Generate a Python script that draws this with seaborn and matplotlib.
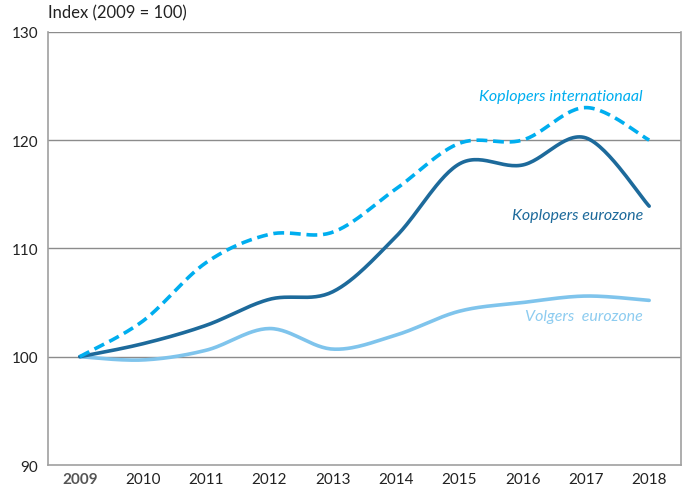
import numpy as np
import pandas as pd
import matplotlib
matplotlib.use("Agg")
import matplotlib.pyplot as plt
import seaborn as sns

# data
years = ["2009", "2010", "2011", "2012", "2013", "2014", "2015", "2016", "2017", "2018"]
koplopers_int = [100.0, 103.3, 108.7, 111.3, 111.5, 115.5, 119.7, 120.0, 123.0, 120.0]
koplopers_euro = [100.0, 101.2, 102.9, 105.3, 106.0, 111.1, 117.8, 117.7, 120.2, 113.9]
volgers_euro = [100.0, 99.7, 100.6, 102.6, 100.7, 102.0, 104.2, 105.0, 105.6, 105.2]

c_int = "#00aeef"
c_euro = "#1d6a9b"
c_volg = "#7fc4ec"


def smooth(values, n=30):
    # Catmull-Rom curve through the points (Excel-style smoothed line)
    y = np.asarray(values, dtype=float)
    x = np.arange(len(y), dtype=float)
    px = np.concatenate([[x[0]], x, [x[-1]]])
    py = np.concatenate([[y[0]], y, [y[-1]]])
    xs, ys = [], []
    for i in range(1, len(px) - 2):
        t = np.linspace(0, 1, n, endpoint=False)
        for arr, out in ((px, xs), (py, ys)):
            p0, p1, p2, p3 = arr[i - 1], arr[i], arr[i + 1], arr[i + 2]
            out.append(0.5 * ((2 * p1) + (-p0 + p2) * t
                              + (2 * p0 - 5 * p1 + 4 * p2 - p3) * t ** 2
                              + (-p0 + 3 * p1 - 3 * p2 + p3) * t ** 3))
    xs.append([x[-1]])
    ys.append([y[-1]])
    return np.concatenate(xs), np.concatenate(ys)


sns.set_theme(style="white")
plt.rcParams["font.family"] = ["Lato", "DejaVu Sans"]

fig = plt.figure(figsize=(6.87, 4.89), dpi=100)
ax = fig.add_axes([0.07, 0.047, 0.921, 0.886])

for vals, col, dash in ((volgers_euro, c_volg, None),
                        (koplopers_euro, c_euro, None),
                        (koplopers_int, c_int, (3, 1.6))):
    sx, sy = smooth(vals)
    df = pd.DataFrame({"x": sx, "y": sy})
    sns.lineplot(data=df, x="x", y="y", ax=ax, color=col, lw=2.6,
                 sort=False, estimator=None)
    if dash:
        ax.lines[-1].set_dashes(dash)
        ax.lines[-1].set_dash_capstyle("butt")

ax.set_xlim(-0.5, len(years) - 0.5)
ax.set_ylim(90, 130)
ax.set_yticks([90, 100, 110, 120, 130])
ax.set_yticklabels(["90", "100", "110", "120", "130"])
for v in [100, 110, 120, 130]:
    ax.axhline(v, color="#8c8c8c", lw=1, zorder=0)

ax.set_xticks(np.arange(len(years)))
ax.set_xticklabels(years)
ax.set_xticks(np.arange(-0.5, len(years)), minor=True)
ax.tick_params(axis="x", which="major", length=0, pad=5, labelsize=11, colors="#222222")
ax.tick_params(axis="x", which="minor", length=5, width=1, color="#8c8c8c", direction="out")
ax.tick_params(axis="y", length=5, width=1, color="#8c8c8c", direction="out",
               pad=2, labelsize=11, colors="#222222")
ax.tick_params(axis="y", color="#8c8c8c")
ax.get_xticklabels()[0].set_fontweight("bold")
ax.get_xticklabels()[0].set_color("#555555")
ax.set_xlabel("")
ax.set_ylabel("")

ax.spines["top"].set_visible(False)
for s in ["left", "right", "bottom"]:
    ax.spines[s].set_color("#a0a0a0")
    ax.spines[s].set_linewidth(1.2)

ax.text(0, 1.025, "Index (2009 = 100)", transform=ax.transAxes, ha="left",
        va="bottom", fontsize=12, color="#222222")

ax.text(8.9, 124.1, "Koplopers internationaal", color=c_int, ha="right",
        va="center", fontsize=11.5, style="italic")
ax.text(8.9, 113.1, "Koplopers eurozone", color=c_euro, ha="right",
        va="center", fontsize=11.5, style="italic")
ax.text(8.9, 103.8, "Volgers  eurozone", color="#8dccf0", ha="right",
        va="center", fontsize=11.5, style="italic")

fig.savefig("out.png", dpi=100)
